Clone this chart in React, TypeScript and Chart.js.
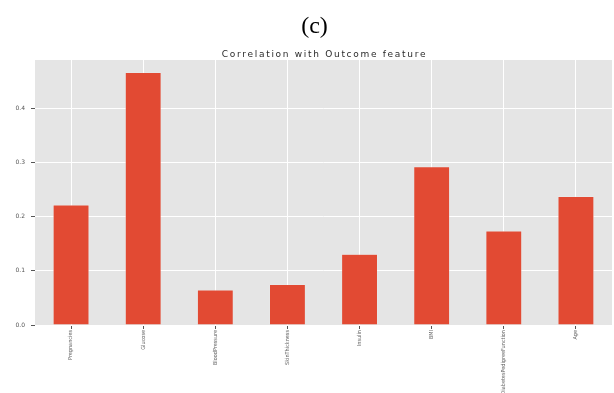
import React, { useEffect, useRef } from "react";
import { Chart, registerables } from "chart.js";

Chart.register(...registerables);

const features = [
  "Pregnancies",
  "Glucose",
  "BloodPressure",
  "SkinThickness",
  "Insulin",
  "BMI",
  "DiabetesPedigreeFunction",
  "Age",
];
const correlations = [0.222, 0.467, 0.065, 0.075, 0.131, 0.293, 0.174, 0.238];
const yTicks = [0, 0.1, 0.2, 0.3, 0.4];
const panelLabel = "(c)";
const plotTitle = "Correlation with Outcome feature";

// grey ggplot-style panel behind the bars
const panelBackground = {
  id: "panelBackground",
  beforeDraw(chart: any) {
    const { ctx, chartArea } = chart;
    ctx.save();
    ctx.fillStyle = "#E5E5E5";
    ctx.fillRect(chartArea.left, chartArea.top, chartArea.right - chartArea.left, chartArea.bottom - chartArea.top);
    ctx.restore();
  },
};

// panel letter and the spaced-out plot title above the axes
const headings = {
  id: "headings",
  afterDraw(chart: any) {
    const { ctx, chartArea } = chart;
    const cx = (chartArea.left + chartArea.right) / 2;
    ctx.save();
    ctx.textAlign = "center";
    ctx.textBaseline = "alphabetic";
    ctx.fillStyle = "#000";
    ctx.font = "24px 'Liberation Serif', 'DejaVu Serif', serif";
    ctx.fillText(panelLabel, cx - 9, chartArea.top - 27);
    ctx.fillStyle = "#2a2a2a";
    ctx.font = "9px 'DejaVu Sans', sans-serif";
    (ctx as any).letterSpacing = "1.7px";
    ctx.fillText(plotTitle, cx + 1, chartArea.top - 2.7);
    ctx.restore();
  },
};

export default function App() {
  const ref = useRef<HTMLCanvasElement | null>(null);

  useEffect(() => {
    if (!ref.current) return;
    const chart = new Chart(ref.current, {
      type: "bar",
      data: {
        labels: features,
        datasets: [
          {
            data: correlations,
            backgroundColor: "#E24A33",
            borderColor: "rgba(238,238,238,0.6)",
            borderWidth: 0.6,
            categoryPercentage: 1,
            barPercentage: 0.5,
          },
        ],
      },
      options: {
        responsive: false,
        animation: false,
        layout: { padding: { left: 0, right: 2, top: 60, bottom: 0 } },
        plugins: {
          legend: { display: false },
          tooltip: { enabled: false },
          title: { display: false },
        },
        scales: {
          x: {
            offset: true,
            grid: {
              offset: false,
              color: "#FFFFFF",
              lineWidth: 1,
              tickColor: "#555555",
              tickLength: 4,
            },
            border: { display: false },
            ticks: {
              autoSkip: false,
              minRotation: 90,
              maxRotation: 90,
              padding: 1,
              color: "#666666",
              font: { family: "'DejaVu Sans Condensed', 'Liberation Sans Narrow', sans-serif", size: 5.5 },
            },
            afterFit(scale: any) {
              scale.height = 68;
            },
          },
          y: {
            min: 0,
            max: 0.49,
            afterBuildTicks(scale: any) {
              scale.ticks = yTicks.map((v) => ({ value: v }));
            },
            grid: {
              color: "#FFFFFF",
              lineWidth: 1,
              tickColor: "#555555",
              tickLength: 4,
            },
            border: { display: false },
            ticks: {
              padding: 6,
              color: "#555555",
              font: { family: "'DejaVu Sans', sans-serif", size: 6 },
              callback: (v: any) => Number(v).toFixed(1),
            },
            afterFit(scale: any) {
              scale.width = 35;
            },
          },
        },
      },
      plugins: [panelBackground, headings],
    });
    return () => chart.destroy();
  }, []);

  return (
    <div style={{ position: "fixed", left: 0, top: 0, width: 614, height: 393, background: "#fff" }}>
      <canvas ref={ref} width={614} height={393} />
    </div>
  );
}
